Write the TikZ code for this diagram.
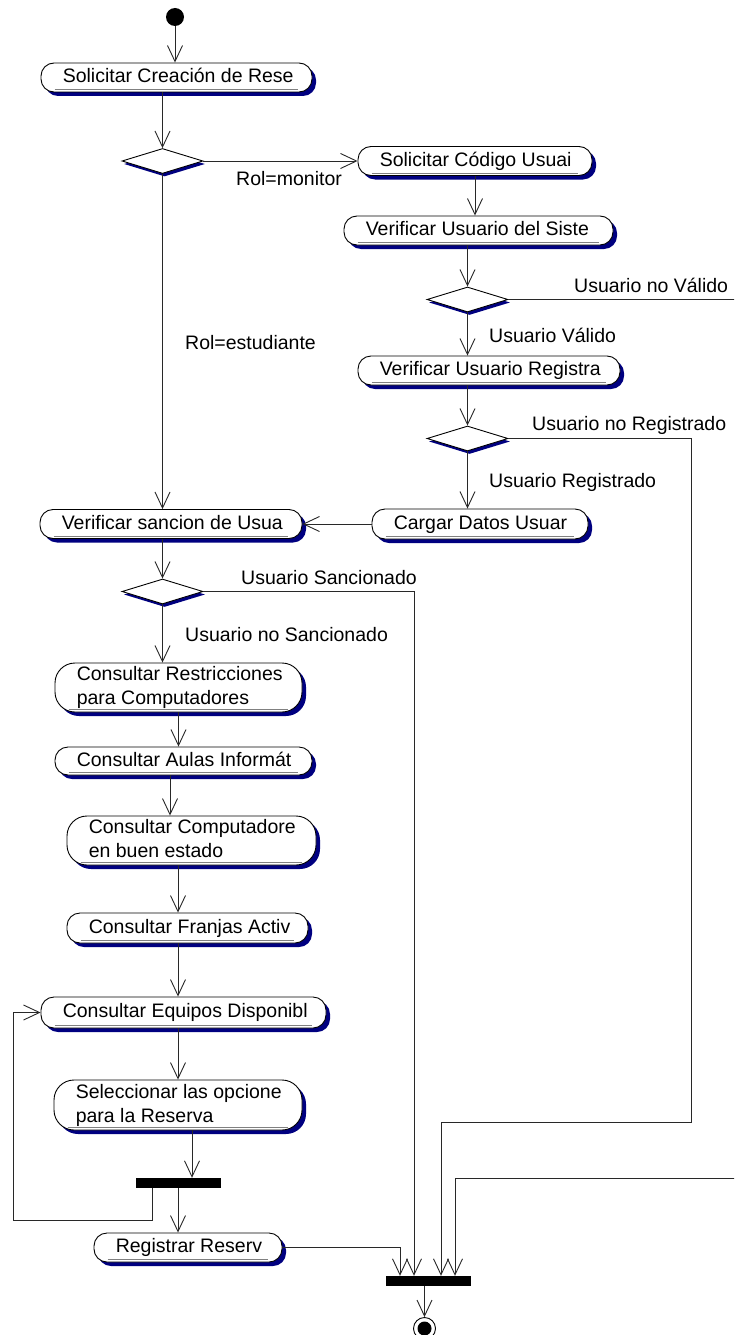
\documentclass[tikz,border=0pt]{standalone}
\usepackage{fontspec}
\setmainfont{Liberation Sans}
\usetikzlibrary{arrows.meta,shapes.geometric,shadows}
\definecolor{navyshadow}{RGB}{0,0,128}
\definecolor{linegray}{RGB}{40,40,40}
\tikzset{
  actbox/.style={draw=black, line width=0.9pt, fill=white, inner sep=0pt,
    drop shadow={shadow xshift=4pt, shadow yshift=-4pt, fill=navyshadow, opacity=1}},
  onebox/.style={rounded corners=13pt},
  twobox/.style={rounded corners=20pt},
  acttext/.style={anchor=west, inner sep=0pt, align=left, text depth=4pt,
    font=\fontsize{19.5}{24}\selectfont},
  onetext/.style={text height=14pt},
  twotext/.style={text height=38pt},
  lbl/.style={anchor=base west, inner sep=0pt, font=\fontsize{19.5}{24}\selectfont},
  dec/.style={diamond, draw=black, line width=0.9pt, fill=white, minimum width=81pt,
    minimum height=25pt, inner sep=0pt,
    drop shadow={shadow xshift=2pt, shadow yshift=-3pt, fill=navyshadow, opacity=1}},
  syncbar/.style={fill=black, minimum width=85pt, minimum height=10pt, inner sep=0pt},
  flow/.style={draw=linegray, line width=0.9pt},
  arr/.style={flow, -{Straight Barb[length=16pt, width=15pt]}},
}
% #1 kind (one/two), #2 name, #3 cx, #4 cy, #5 width, #6 height, #7 text
\newcommand\actnode[7][one]{%
  \node[actbox, #1box, minimum width=#5pt, minimum height=#6pt] (#2) at (#3,#4) {};
  \draw[gray, line width=0.6pt] ([xshift=14pt, yshift=3pt]#2.south west) -- ([xshift=-14pt, yshift=3pt]#2.south east);
  \node[acttext, #1text] (#2t) at ([xshift=22pt]#2.west) {#7};
}
\begin{document}
\begin{tikzpicture}[x=1pt, y=-1pt]
\useasboundingbox (0,0) rectangle (734,1335);
\clip (0,0) rectangle (734,1335);
\fill[white] (0,0) rectangle (734,1335);

% start
\node[circle, fill=black, minimum size=18pt, inner sep=0pt] (start) at (175,17) {};

\actnode{a1}{176.5}{77.5}{271}{29}{Solicitar Creación de Rese}
\node[dec] (d1) at (162.5,161) {};
\actnode{a2}{475}{161}{234}{29}{Solicitar Código Usuai}
\actnode{a3}{478.5}{230.5}{269}{29}{Verificar Usuario del Siste}
\node[dec] (d2) at (467.5,299.5) {};
\actnode{a4}{489}{370.5}{262}{29}{Verificar Usuario Registra}
\node[dec] (d3) at (467.5,438.5) {};
\actnode{a5}{480}{524}{216}{30}{Cargar Datos Usuar}
\actnode{a6}{171}{524}{262}{29}{Verificar sancion de Usua}
\node[dec] (d4) at (162.5,591.5) {};
\actnode[two]{a7}{178.5}{687.5}{247}{49}{Consultar Restricciones\\para Computadores}
\actnode{a8}{183.5}{761}{257}{28}{Consultar Aulas Informát}
\actnode[two]{a9}{191.5}{840.5}{249}{49}{Consultar Computadore\\en buen estado}
\actnode{a10}{187.5}{928}{241}{30}{Consultar Franjas Activ}
\actnode{a11}{183.5}{1012.5}{285}{31}{Consultar Equipos Disponibl}
\actnode[two]{a12}{178}{1105}{248}{50}{Seleccionar las opcione\\para la Reserva}
\node[syncbar] (bar1) at (178.5,1183) {};
\actnode{a13}{188}{1247.5}{188}{29}{Registrar Reserv}
\node[syncbar] (bar2) at (428.5,1281) {};

% final
\node[circle, draw=black, line width=0.9pt, fill=white, minimum size=22pt, inner sep=0pt] (fin) at (424.5,1328.5) {};
\node[circle, fill=black, minimum size=14pt, inner sep=0pt] (fincore) at (fin.center) {};

% labels
\node[lbl] (lmon) at (236,185) {Rol=monitor};
\node[lbl] (lest) at (185,349) {Rol=estudiante};
\node[lbl] (lnoval) at (574,292) {Usuario no Válido};
\node[lbl] (lval) at (489,342) {Usuario Válido};
\node[lbl] (lnoreg) at (532,430) {Usuario no Registrado};
\node[lbl] (lreg) at (489,487) {Usuario Registrado};
\node[lbl] (lsan) at (241,584) {Usuario Sancionado};
\node[lbl] (lnosan) at (185,641) {Usuario no Sancionado};

% helper coordinates
\coordinate (nvR) at (745,1178);
\coordinate (nvL) at (455,1178);
\coordinate (nrR) at (691,1122);
\coordinate (nrL) at (441,1122);
\coordinate (nsX) at (414,0);
\coordinate (rrX) at (400,0);
\coordinate (lp1) at (152,1220);
\coordinate (lp2) at (13,1012.5);

% connectors
\draw[arr] (start.south) -- (start.south |- a1.north);
\draw[arr] (d1.north |- a1.south) -- (d1.north);
\draw[arr] (d1.east) -- (d1.east -| a2.west);
\draw[arr] (d1.south) -- (d1.south |- a6.north);
\draw[arr] (a2.south) -- (a2.south |- a3.north);
\draw[arr] (d2.north |- a3.south) -- (d2.north);
\draw[arr] (d2.east) -| (nvR) -- (nvL) -- (nvL |- bar2.north);
\draw[arr] (d2.south) -- (d2.south |- a4.north);
\draw[arr] (d3.north |- a4.south) -- (d3.north);
\draw[arr] (d3.east) -| (nrR) -- (nrL) -- (nrL |- bar2.north);
\draw[arr] (d3.south) -- (d3.south |- a5.north);
\draw[arr] (a5.west) -- (a5.west -| a6.east);
\draw[arr] (d4.north |- a6.south) -- (d4.north);
\draw[arr] (d4.east) -| (nsX |- bar2.north);
\draw[arr] (d4.south) -- (d4.south |- a7.north);
\draw[arr] (a7.south) -- (a7.south |- a8.north);
\draw[arr] (a8.south -| 170,0) -- (a9.north -| 170,0);
\draw[arr] (a9.south -| 178,0) -- (a10.north -| 178,0);
\draw[arr] (a10.south -| 178,0) -- (a11.north -| 178,0);
\draw[arr] (a11.south -| 178,0) -- (a12.north -| 178,0);
\draw[arr] (a12.south -| 192,0) -- (bar1.north -| 192,0);
\draw[arr] (bar1.south -| 178,0) -- (a13.north -| 178,0);
\draw[arr] (bar1.south -| lp1) -- (lp1) -| (lp2 |- a11.west) -- (a11.west);
\draw[arr] (a13.east) -| (rrX |- bar2.north);
\draw[arr] (bar2.south -| fin.north) -- (fin.north);
\end{tikzpicture}
\end{document}
